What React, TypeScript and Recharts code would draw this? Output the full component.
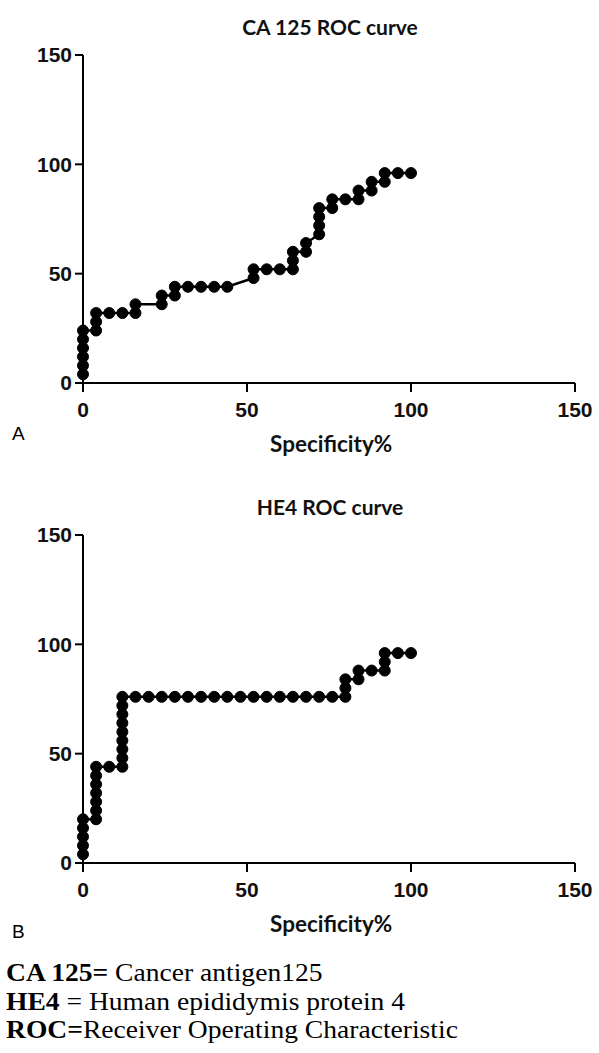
import React from "react";
import { Line, LineChart, XAxis, YAxis } from "recharts";

// (100 - specificity) on x, sensitivity on y
const caSpec = [0, 0, 0, 0, 0, 0, 4, 4, 4, 8, 12, 16, 16, 24, 24, 28, 28, 32, 36, 40, 44, 52, 52, 56, 60, 64, 64, 64, 68, 68, 72, 72, 72, 72, 76, 76, 80, 84, 84, 88, 88, 92, 92, 96, 100];
const caSens = [4, 8, 12, 16, 20, 24, 24, 28, 32, 32, 32, 32, 36, 36, 40, 40, 44, 44, 44, 44, 44, 48, 52, 52, 52, 52, 56, 60, 60, 64, 68, 72, 76, 80, 80, 84, 84, 84, 88, 88, 92, 92, 96, 96, 96];

const he4Spec = [0, 0, 0, 0, 0, 4, 4, 4, 4, 4, 4, 4, 8, 12, 12, 12, 12, 12, 12, 12, 12, 12, 16, 20, 24, 28, 32, 36, 40, 44, 48, 52, 56, 60, 64, 68, 72, 76, 80, 80, 80, 84, 84, 88, 92, 92, 92, 96, 100];
const he4Sens = [4, 8, 12, 16, 20, 20, 24, 28, 32, 36, 40, 44, 44, 44, 48, 52, 56, 60, 64, 68, 72, 76, 76, 76, 76, 76, 76, 76, 76, 76, 76, 76, 76, 76, 76, 76, 76, 76, 76, 80, 84, 84, 88, 88, 88, 92, 96, 96, 96];

const axisTicks = [0, 50, 100, 150];

const toRows = (xs: number[], ys: number[]) => xs.map((x, i) => ({ x, y: ys[i] }));

const tickFont = { fontFamily: "'Liberation Sans', Arial", fontWeight: 700, fontSize: 21, fill: "#111" };
const headFont: React.CSSProperties = { fontFamily: "Lato, 'Open Sans'", fontWeight: 700, color: "#111", whiteSpace: "nowrap" };

type PanelProps = { title: string; letter: string; letterTop: number; xs: number[]; ys: number[]; top: number };

function RocPanel({ title, letter, letterTop, xs, ys, top }: PanelProps) {
  const data = toRows(xs, ys);
  return (
    <div style={{ position: "absolute", left: 0, top, width: 599, height: 460 }}>
      <div style={{ ...headFont, position: "absolute", left: 180, width: 300, top: 13, fontSize: 21, lineHeight: "28px", textAlign: "center" }}>
        {title}
      </div>
      <LineChart width={599} height={460} data={data} margin={{ top: 55, left: 82, right: 24, bottom: 76 }}>
        <XAxis
          type="number"
          dataKey="x"
          domain={[0, 150]}
          ticks={axisTicks}
          height={1}
          tickSize={9}
          tickMargin={10}
          axisLine={{ stroke: "#000", strokeWidth: 2 }}
          tickLine={{ stroke: "#000", strokeWidth: 2 }}
          tick={tickFont}
        />
        <YAxis
          type="number"
          domain={[0, 150]}
          ticks={axisTicks}
          width={1}
          tickSize={8}
          tickMargin={3}
          axisLine={{ stroke: "#000", strokeWidth: 2 }}
          tickLine={{ stroke: "#000", strokeWidth: 2 }}
          tick={tickFont}
        />
        <Line
          type="linear"
          dataKey="y"
          stroke="#000"
          strokeWidth={2.5}
          dot={{ r: 5.5, fill: "#000", stroke: "#000", strokeWidth: 1 }}
          isAnimationActive={false}
        />
      </LineChart>
      <div style={{ ...headFont, position: "absolute", left: 270, top: 430, fontSize: 22.5 }}>Specificity%</div>
      <div style={{ position: "absolute", left: 12, top: letterTop, fontFamily: "'Liberation Sans', Arial", fontSize: 19 }}>{letter}</div>
    </div>
  );
}

export default function App() {
  const serif = "'Liberation Serif', 'Times New Roman', serif";
  const line: React.CSSProperties = { fontFamily: serif, fontSize: 26, lineHeight: "28.5px", color: "#000", whiteSpace: "nowrap" };
  return (
    <div style={{ position: "absolute", left: 0, top: 0, width: 599, height: 1053, background: "#fff", overflow: "hidden" }}>
      <RocPanel title="CA 125 ROC curve" letter="A" letterTop={423} xs={caSpec} ys={caSens} top={0} />
      <RocPanel title="HE4 ROC curve" letter="B" letterTop={441} xs={he4Spec} ys={he4Sens} top={480} />
      <div style={{ position: "absolute", left: 6, top: 959, transform: "scaleX(1.06)", transformOrigin: "left top" }}>
        <div style={line}><b>CA 125=</b> Cancer antigen125</div>
        <div style={line}><b>HE4</b> = Human epididymis protein 4</div>
        <div style={line}><b>ROC=</b>Receiver Operating Characteristic</div>
      </div>
    </div>
  );
}
